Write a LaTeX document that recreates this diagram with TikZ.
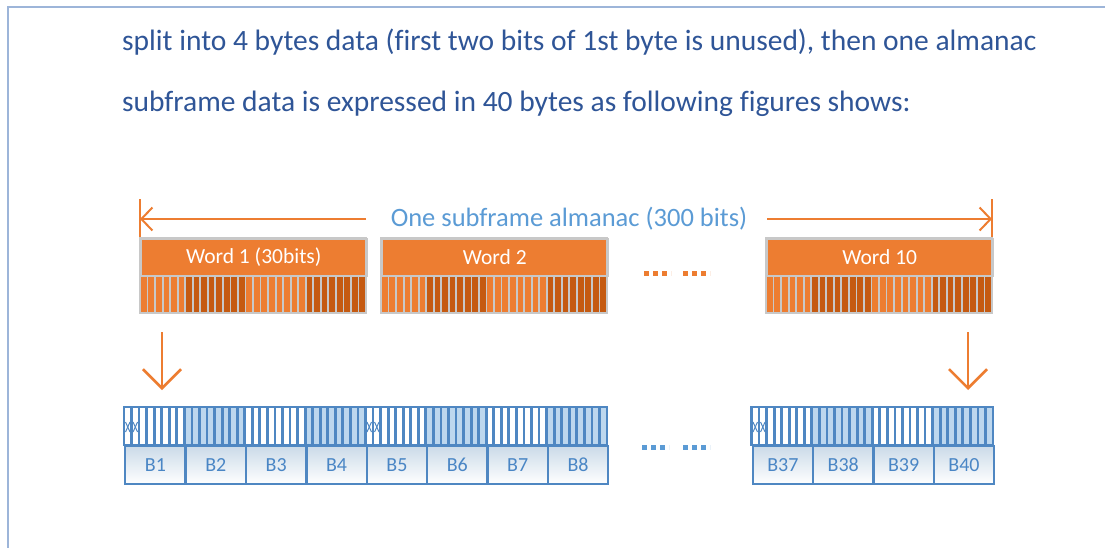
\documentclass[tikz,border=0pt]{standalone}
\usepackage{fontspec}
\setmainfont{Carlito}[Ligatures=CommonOff]
\usetikzlibrary{arrows.meta}
\definecolor{txtblue}{HTML}{2F5597}
\definecolor{lblue}{HTML}{5B9BD5}
\definecolor{orng}{HTML}{ED7D31}
\definecolor{dorng}{HTML}{C55A11}
\definecolor{bblue}{HTML}{4F87C2}
\definecolor{fillblue}{HTML}{BDD7EE}
\definecolor{labblue}{HTML}{4A86C5}
\definecolor{framec}{HTML}{9DB5D9}
\definecolor{sepgray}{HTML}{C8C8C8}
\tikzset{
  para/.style={anchor=base west, text=txtblue, inner sep=0pt, font=\fontsize{29.5}{34}\selectfont},
  wordhead/.style={fill=orng, draw=sepgray, line width=1.5pt, text=white, anchor=north west,
    minimum width=226pt, minimum height=37pt, inner sep=0pt, font=\fontsize{21.5}{25}\selectfont},
  sepline/.style={draw=sepgray, line width=1.8pt},
  bitline/.style={draw=bblue, line width=2.8pt},
  bytelab/.style={draw=bblue, line width=2.4pt, anchor=north west, minimum width=60.375pt,
    minimum height=38pt, inner sep=0pt, text=labblue, font=\fontsize{20}{24}\selectfont,
    top color=white!88!black!40!fillblue, bottom color=white},
  dimarrow/.style={draw=orng, line width=2pt, -{Straight Barb[length=11pt,width=23pt]}},
  downarrow/.style={draw=orng, line width=2.6pt, -{Straight Barb[length=19pt,width=38pt]}},
  dots/.style={line width=5pt, dash pattern=on 5pt off 4pt},
  xmark/.style={draw=bblue, line width=1pt}
}
\begin{document}
\begin{tikzpicture}[x=1pt,y=-1pt]
\useasboundingbox (0,0) rectangle (1105,547);
\fill[white] (0,0) rectangle (1105,547);
\draw[framec, line width=2pt] (8,548) -- (8,7) -- (1106,7);
% paragraph
\node[para] (l1) at (122,50) {split into 4 bytes data (first two bits of 1st byte is unused), then one almanac};
\node[para] (l2) at (122,111) {subframe data is expressed in 40 bytes as following figures shows:};
% dimension arrow
\node[text=lblue, inner sep=0pt, font=\fontsize{26.5}{31}\selectfont] (dim) at (569,219) {One subframe almanac (300 bits)};
\coordinate (dl) at (140,219);
\coordinate (dr) at (992,219);
\coordinate (dimL) at (366,219);
\coordinate (dimR) at (767,219);
\draw[dimarrow] (dimL) -- (dl);
\draw[dimarrow] (dimR) -- (dr);
\coordinate (tl1) at (140,199); \coordinate (tl2) at (140,238);
\coordinate (tr1) at (992,199); \coordinate (tr2) at (992,238);
\draw[orng, line width=2pt] (tl1) -- (tl2);
\draw[orng, line width=2pt] (tr1) -- (tr2);
% words
\foreach \x/\nm/\t in {140/w1/Word 1 (30bits), 381/w2/Word 2, 766/w10/Word 10}{
  \fill[orng] (\x,275) rectangle ++(226,38);
  \fill[dorng] (\x+6*7.5333,275) rectangle (\x+14*7.5333,313);
  \fill[dorng] (\x+22*7.5333,275) rectangle (\x+226,313);
  \foreach \i in {1,...,29} \draw[sepline] (\x+\i*7.5333,275) -- ++(0,38);
  \node[wordhead] (\nm) at (\x,238) {\t};
  \draw[sepline] (\x,238) rectangle ++(226,75);
}
% orange dots
\coordinate (od1) at (644,273); \coordinate (od2) at (671,273);
\coordinate (od3) at (683,273); \coordinate (od4) at (710,273);
\draw[orng, dots] (od1) -- (od2);
\draw[orng, dots] (od3) -- (od4);
% down arrows
\coordinate (a1s) at (162,332); \coordinate (a1e) at (162,390);
\coordinate (a2s) at (968,332); \coordinate (a2e) at (968,390);
\draw[downarrow] (a1s) -- (a1e);
\draw[downarrow] (a2s) -- (a2e);
% bytes
\foreach \n/\x in {1/124,2/184.375,3/244.75,4/305.125,5/365.5,6/425.875,7/486.25,8/546.625,
                   37/751.5,38/811.875,39/872.25,40/932.625}{
  \ifodd\n
    \fill[white] (\x,407) rectangle ++(60.375,38);
  \else
    \fill[fillblue] (\x,407) rectangle ++(60.375,38);
  \fi
  \foreach \i in {1,...,7} \draw[bitline] (\x+\i*7.5469,407) -- ++(0,38);
  \draw[bitline] (\x,407) rectangle ++(60.375,38);
  \node[bytelab] (b\n) at (\x,445) {B\n};
}
% unused-bit marks
\foreach \x in {124,365.5,751.5}{
  \foreach \k in {0,1}{
    \draw[xmark] (\x+\k*7.5469+1.5,422) -- (\x+\k*7.5469+6,432);
    \draw[xmark] (\x+\k*7.5469+6,422) -- (\x+\k*7.5469+1.5,432);
  }
}
% blue dots
\coordinate (bd1) at (642,447); \coordinate (bd2) at (669,447);
\coordinate (bd3) at (683,447); \coordinate (bd4) at (710,447);
\draw[lblue, dots] (bd1) -- (bd2);
\draw[lblue, dots] (bd3) -- (bd4);
\end{tikzpicture}
\end{document}
